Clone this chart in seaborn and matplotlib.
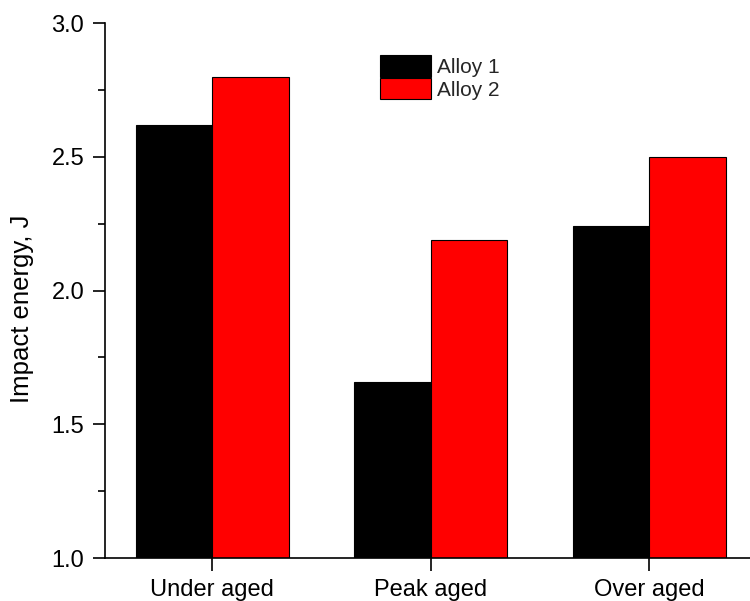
import pandas as pd
import matplotlib.pyplot as plt
import seaborn as sns
from matplotlib.ticker import MultipleLocator

conditions = ["Under aged", "Peak aged", "Over aged"]
alloy1 = [2.62, 1.66, 2.24]
alloy2 = [2.80, 2.19, 2.50]

df = pd.DataFrame({
    "condition": conditions * 2,
    "energy": alloy1 + alloy2,
    "alloy": ["Alloy 1"] * 3 + ["Alloy 2"] * 3,
})

sns.set_style("ticks")
plt.rcParams["font.family"] = ["Liberation Sans", "DejaVu Sans"]

fig = plt.figure(figsize=(7.5, 6.01), dpi=100)
ax = fig.add_axes([0.14, 0.0715, 0.86, 0.89])
sns.barplot(data=df, x="condition", y="energy", hue="alloy",
            palette={"Alloy 1": "black", "Alloy 2": "#ff0000"},
            saturation=1, width=0.7, edgecolor="black", linewidth=0.8, ax=ax)

ax.set_ylim(1.0, 3.0)
ax.set_xlim(-0.49, 2.46)
ax.yaxis.set_major_locator(MultipleLocator(0.5))
ax.yaxis.set_minor_locator(MultipleLocator(0.25))
ax.set_xlabel("")
ax.set_ylabel("Impact energy, J", fontsize=18.5, color="black")
ax.yaxis.set_label_coords(-0.11, 0.465)
ax.tick_params(axis="both", labelsize=17, direction="out", width=1.2, length=9,
               pad=6, colors="black")
ax.tick_params(axis="y", which="minor", direction="out", width=1.2, length=5,
               colors="black")
for side in ["left", "bottom"]:
    ax.spines[side].set_linewidth(1.2)
    ax.spines[side].set_color("black")
sns.despine(ax=ax)

ax.legend(loc="upper left", bbox_to_anchor=(0.426, 0.94), frameon=False,
          fontsize=15, handlelength=2.45, handleheight=1.2,
          labelspacing=0.05, handletextpad=0.3, borderpad=0, borderaxespad=0)

fig.savefig("out.png", dpi=100)
